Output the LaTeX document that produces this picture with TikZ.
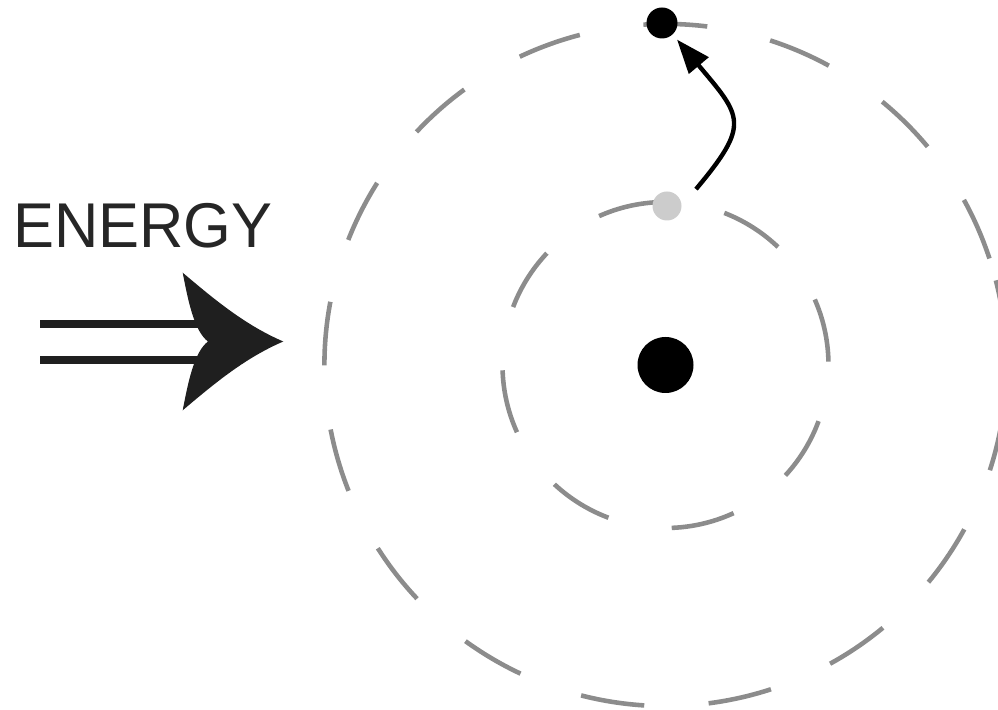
\documentclass[tikz,border=0pt]{standalone}
\usepackage{fontspec}
\setmainfont{Liberation Sans}
\usepackage{graphicx}
\usetikzlibrary{arrows.meta}

\begin{document}
\begin{tikzpicture}[
    orbit/.style={draw=black!45, line width=2.6pt, dash pattern=on 1.28cm off 1.29cm},
    particle/.style={circle, inner sep=0pt, fill=black},
    jump/.style={-{Triangle[length=0.68cm, width=0.5cm]}, line width=2.5pt, black},
    energytext/.style={inner sep=0pt, text=black!85, font=\fontsize{36}{40}\selectfont},
    beam/.style={line width=4.2pt, black!88},
]
\useasboundingbox (0,0) rectangle (19.96,14.2);

\node[particle, minimum size=1.12cm] (NUCLEUS) at (13.31,6.90) {};
\draw[orbit] (NUCLEUS.center) ++(1.2:3.26) arc[start angle=1.2, delta angle=360, radius=3.26];
\draw[orbit] (NUCLEUS.center) ++(18.2:6.82) arc[start angle=18.2, delta angle=360, radius=6.82];

\node[particle, fill=black!20, minimum size=0.58cm] (LOWER) at (13.34,10.08) {};
\node[particle, minimum size=0.62cm] (UPPER) at (13.24,13.74) {};
\draw[jump, shorten <=0.44cm, shorten >=0.13cm] (LOWER.east) to[out=50, in=-50, looseness=1.6] (UPPER.-47);

\node[energytext, anchor=base west] (ENERGY) at (0.26,9.24) {\scalebox{0.97}[1]{ENERGY}};
\draw[beam] (0.8,7.72) -- (4.1,7.72);
\draw[beam] (0.8,7.0) -- (4.1,7.0);
\fill[black!88] (5.666,7.37) .. controls (4.9,7.7) and (4.3,8.2) .. (3.654,8.746)
    .. controls (3.76,8.2) and (3.88,7.58) .. (4.16,7.37)
    .. controls (3.88,7.16) and (3.76,6.54) .. (3.654,5.994)
    .. controls (4.3,6.54) and (4.9,7.04) .. cycle;
\end{tikzpicture}
\end{document}
